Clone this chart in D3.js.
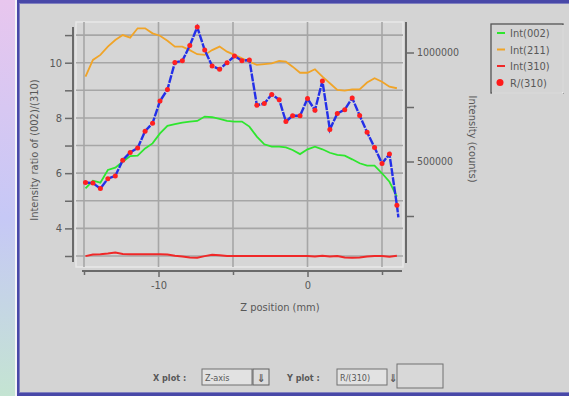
<!DOCTYPE html>
<html>
<head>
<meta charset="utf-8">
<script src="https://cdn.jsdelivr.net/npm/d3@7"></script>
<style>
  html, body { margin: 0; padding: 0; background: #d4d4d4; }
  svg { display: block; }
  text { font-family: "Liberation Sans Narrow", "DejaVu Sans Condensed", "Liberation Sans", sans-serif; fill: #585858; }
</style>
</head>
<body>
<svg id="chart" width="569" height="396"></svg>
<script>
// Z positions (mm) of each scan step
const zPos = [-14.9, -14.4, -13.9, -13.4, -12.9, -12.4, -11.9, -11.4, -10.9, -10.4,
  -9.9, -9.4, -8.9, -8.4, -7.9, -7.4, -6.9, -6.4, -5.9, -5.4,
  -4.9, -4.4, -3.9, -3.4, -2.9, -2.4, -1.9, -1.45, -1.0, -0.5,
  0.0, 0.5, 1.0, 1.5, 2.0, 2.5, 3.0, 3.5, 4.0, 4.5,
  5.0, 5.5, 6.0];
// Intensity ratio (002)/(310), left axis
const ratio = [5.66, 5.64, 5.44, 5.80, 5.90, 6.47, 6.75, 6.91, 7.52, 7.81,
  8.61, 9.03, 10.01, 10.07, 10.62, 11.29, 10.46, 9.88, 9.76, 10.0,
  10.24, 10.07, 10.10, 8.46, 8.52, 8.85, 8.66, 7.87, 8.08, 8.08,
  8.70, 8.28, 9.34, 7.58, 8.16, 8.30, 8.72, 8.09, 7.48, 6.93,
  6.35, 6.69, 4.84];
// last unmarked reading of the ratio trace
const ratioTailZ = 6.1;
const ratioTail = 4.4;
// Peak intensities (counts), right axis
const int002 = [377000, 412000, 403000, 461000, 472000, 499000, 525000, 527000, 560000, 583000,
  629000, 664000, 671000, 678000, 683000, 686000, 706000, 703000, 695000, 686000,
  683000, 683000, 660000, 614000, 579000, 568000, 568000, 565000, 553000, 534000,
  556000, 568000, 556000, 540000, 530000, 527000, 510000, 492000, 481000, 481000,
  446000, 407000, 339000];
const int211 = [889000, 966000, 989000, 1027000, 1057000, 1080000, 1068000, 1111000, 1111000, 1088000,
  1077000, 1054000, 1027000, 1027000, 1011000, 992000, 989000, 1011000, 1027000, 1004000,
  989000, 973000, 958000, 943000, 947000, 950000, 961000, 958000, 935000, 907000,
  907000, 923000, 889000, 859000, 828000, 825000, 831000, 831000, 862000, 882000,
  866000, 843000, 836000];
const int310 = [66000, 73000, 75000, 78000, 82000, 76000, 75000, 75000, 75000, 75000,
  75000, 73000, 68000, 64000, 60000, 59000, 66000, 72000, 70000, 67000,
  67000, 67000, 67000, 67000, 67000, 67000, 67000, 67000, 67000, 67000,
  67000, 64000, 68000, 64000, 66000, 60000, 58000, 60000, 64000, 67000,
  67000, 63000, 68000];

const xTicks = [-10, 0];
const xMinorTicks = [-15, -5, 5];
const leftTicks = [4, 6, 8, 10];
const leftMinor = [3, 5, 7, 9, 11];
const rightTicks = [500000, 1000000];
const rightMinor = [250000, 750000];
const legendItems = [
  { label: "Int(002)", color: "#2ee62e", kind: "line" },
  { label: "Int(211)", color: "#f0a428", kind: "line" },
  { label: "Int(310)", color: "#f02828", kind: "line" },
  { label: "R/(310)", color: "#ff1a1a", kind: "dot" }
];

const svg = d3.select("#chart");

// window backdrop: pastel strip on the left and framed gray panel
const defs = svg.append("defs");
const grad = defs.append("linearGradient").attr("id", "side").attr("x1", 0).attr("y1", 0).attr("x2", 0).attr("y2", 1);
grad.append("stop").attr("offset", "0%").attr("stop-color", "#e8c6ee");
grad.append("stop").attr("offset", "55%").attr("stop-color", "#c6c8f6");
grad.append("stop").attr("offset", "100%").attr("stop-color", "#c4e4d2");
svg.append("rect").attr("x", 0).attr("y", 0).attr("width", 16).attr("height", 396).attr("fill", "url(#side)");
svg.append("rect").attr("x", 15).attr("y", 0).attr("width", 2).attr("height", 396).attr("fill", "#f4f4f8");
svg.append("rect").attr("x", 17).attr("y", 0).attr("width", 560).attr("height", 396).attr("fill", "#4848a8");
svg.append("rect").attr("x", 19).attr("y", 3).attr("width", 560).attr("height", 390).attr("fill", "#8080c0");
svg.append("rect").attr("x", 20).attr("y", 4).attr("width", 560).attr("height", 388).attr("fill", "#d4d4d4");

// plot geometry and scales (set by the axis tick positions)
const plot = { left: 76, right: 403, top: 22, bottom: 267 };
const x = d3.scaleLinear().domain([-15, 5]).range([84, 382]);
const yL = d3.scaleLinear().domain([3, 10]).range([256, 62.7]);
const yR = d3.scaleLinear().domain([500000, 1000000]).range([161.5, 52.5]);

// plot panel
svg.append("rect")
  .attr("x", plot.left).attr("y", plot.top)
  .attr("width", plot.right - plot.left).attr("height", plot.bottom - plot.top)
  .attr("fill", "#d6d6d6").attr("stroke", "#e8e8e8").attr("stroke-width", 1.5);

// gridlines
const grid = svg.append("g").attr("stroke", "#a6a6a6").attr("stroke-width", 1.6);
grid.selectAll("line.h").data(leftTicks.concat(leftMinor)).join("line")
  .attr("x1", plot.left).attr("x2", plot.right)
  .attr("y1", d => yL(d)).attr("y2", d => yL(d));
grid.selectAll("line.v").data(xTicks.concat(xMinorTicks)).join("line")
  .attr("y1", plot.top).attr("y2", plot.bottom)
  .attr("x1", d => x(d)).attr("x2", d => x(d));

// axes
const axisColor = "#6a6a6a";
function styleAxis(g) {
  g.select(".domain").attr("stroke", axisColor).attr("stroke-width", 2);
  g.selectAll(".tick line").attr("stroke", axisColor).attr("stroke-width", 1.5);
  g.selectAll(".tick text").attr("fill", "#585858").attr("font-size", 11)
    .attr("font-family", "\"Liberation Sans Narrow\", \"DejaVu Sans Condensed\", sans-serif");
}

// left axis
const leftAxisG = svg.append("g").attr("transform", "translate(73,0)");
leftAxisG.call(d3.axisLeft(yL).tickValues(leftTicks.concat(leftMinor).sort((a, b) => a - b))
  .tickSize(8).tickPadding(3).tickFormat(d => leftTicks.includes(d) ? d : ""));
leftAxisG.select(".domain").attr("d", `M0,${plot.top + 5}V${plot.bottom - 5}`);
styleAxis(leftAxisG);

// right axis
const rightAxisG = svg.append("g").attr("transform", "translate(406,0)");
rightAxisG.call(d3.axisRight(yR).tickValues(rightTicks.concat(rightMinor))
  .tickSize(8).tickPadding(3).tickFormat(d => rightTicks.includes(d) ? d : ""));
rightAxisG.select(".domain").attr("d", `M0,${plot.top}V${plot.bottom - 4}`);
styleAxis(rightAxisG);
rightAxisG.selectAll(".tick text").attr("font-size", 10.5);

// bottom axis
const bottomAxisG = svg.append("g").attr("transform", "translate(0,271)");
bottomAxisG.call(d3.axisBottom(x).tickValues(xTicks.concat(xMinorTicks))
  .tickSize(6).tickPadding(4).tickFormat(d => xTicks.includes(d) ? d : ""));
bottomAxisG.select(".domain").attr("d", `M${plot.left + 6},0H${plot.right - 1}`);
styleAxis(bottomAxisG);
bottomAxisG.selectAll(".tick").filter(d => xMinorTicks.includes(d)).select("line").attr("y2", 4);

// axis titles
svg.append("text").attr("transform", "translate(38,150) rotate(-90)")
  .attr("text-anchor", "middle").attr("font-size", 11).text("Intensity ratio of (002)/(310)");
svg.append("text").attr("transform", "translate(469,139) rotate(90)")
  .attr("text-anchor", "middle").attr("font-size", 11).text("Intensity (counts)");
svg.append("text").attr("x", 280).attr("y", 311)
  .attr("text-anchor", "middle").attr("font-size", 11).text("Z position (mm)");

// series
const lineOf = (vals, scale) => d3.line().x((d, i) => x(zPos[i])).y(d => scale(d))(vals);
svg.append("path").attr("d", lineOf(int310, yR)).attr("fill", "none")
  .attr("stroke", "#f02828").attr("stroke-width", 2);
svg.append("path").attr("d", lineOf(int211, yR)).attr("fill", "none")
  .attr("stroke", "#f0a428").attr("stroke-width", 1.8);
svg.append("path").attr("d", lineOf(int002, yR)).attr("fill", "none")
  .attr("stroke", "#2ee62e").attr("stroke-width", 1.8);

const ratioPts = zPos.map((z, i) => [z, ratio[i]]).concat([[ratioTailZ, ratioTail]]);
svg.append("path")
  .attr("d", d3.line().x(d => x(d[0])).y(d => yL(d[1]))(ratioPts))
  .attr("fill", "none").attr("stroke", "#2430e8").attr("stroke-width", 2.4)
  .attr("stroke-dasharray", "8,1.2");
svg.append("g").selectAll("circle").data(zPos).join("circle")
  .attr("cx", d => x(d)).attr("cy", (d, i) => yL(ratio[i])).attr("r", 2.5)
  .attr("fill", "#ff2020");

// legend
const lg = svg.append("g").attr("transform", "translate(491,24)");
lg.append("rect").attr("x", 0).attr("y", 0).attr("width", 72).attr("height", 69)
  .attr("fill", "#d4d4d4").attr("stroke", "#555").attr("stroke-width", 1.3);
lg.append("line").attr("x1", 1).attr("x2", 72).attr("y1", 69).attr("y2", 69).attr("stroke", "#f4f4f4").attr("stroke-width", 1.5);
lg.append("line").attr("x1", 72).attr("x2", 72).attr("y1", 1).attr("y2", 69).attr("stroke", "#f4f4f4").attr("stroke-width", 1.5);
const rows = lg.selectAll("g.item").data(legendItems).join("g")
  .attr("transform", (d, i) => `translate(0,${9 + i * 16.5})`);
rows.filter(d => d.kind === "line").append("line")
  .attr("x1", 6).attr("x2", 14).attr("y1", 0).attr("y2", 0)
  .attr("stroke", d => d.color).attr("stroke-width", 2);
rows.filter(d => d.kind === "dot").append("circle")
  .attr("cx", 9).attr("cy", 0).attr("r", 3.5).attr("fill", d => d.color);
rows.append("text").attr("x", 19).attr("y", 4).attr("font-size", 11).text(d => d.label);

// plot selector controls
const ctl = svg.append("g").attr("font-size", 9).attr("font-weight", "bold");
ctl.append("text").attr("x", 153).attr("y", 381).text("X plot :");
ctl.append("text").attr("x", 287).attr("y", 381).text("Y plot :");
function field(x0, w, label) {
  ctl.append("rect").attr("x", x0).attr("y", 369).attr("width", w).attr("height", 16)
    .attr("fill", "#e2e2e2").attr("stroke", "#707070").attr("stroke-width", 1);
  ctl.append("text").attr("x", x0 + 3).attr("y", 381).attr("font-weight", "normal").text(label);
}
field(202, 50, "Z-axis");
field(337, 50, "R/(310)");
ctl.append("rect").attr("x", 253).attr("y", 369).attr("width", 16).attr("height", 16)
  .attr("fill", "#dcdcdc").attr("stroke", "#606060");
ctl.append("text").attr("x", 257).attr("y", 382).attr("font-size", 11).text("⇓");
ctl.append("rect").attr("x", 397).attr("y", 364).attr("width", 46).attr("height", 24)
  .attr("fill", "#d8d8d8").attr("stroke", "#707070");
ctl.append("text").attr("x", 389).attr("y", 382).attr("font-size", 11).text("⇓");
</script>
</body>
</html>
